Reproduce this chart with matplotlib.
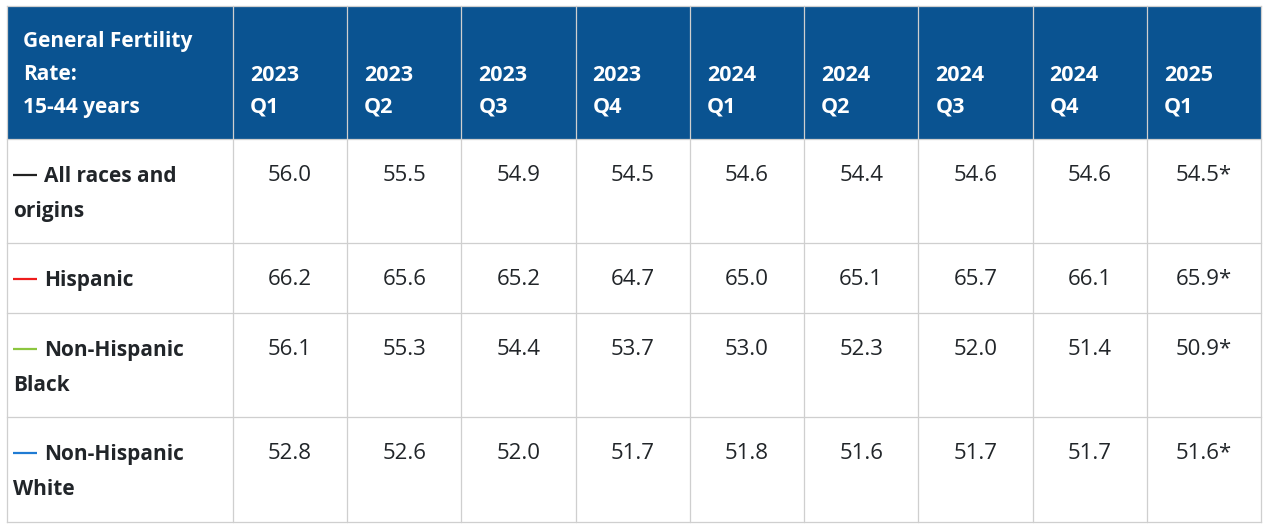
import matplotlib.pyplot as plt
from matplotlib.patches import Rectangle

# table content
title_lines = ['General Fertility', 'Rate:', '15-44 years']
periods = ['2023\nQ1', '2023\nQ2', '2023\nQ3', '2023\nQ4', '2024\nQ1',
           '2024\nQ2', '2024\nQ3', '2024\nQ4', '2025\nQ1']
row_labels = ['All races and\norigins', 'Hispanic', 'Non-Hispanic\nBlack', 'Non-Hispanic\nWhite']
dash_colors = ['#222222', '#ee1c1c', '#8cc63f', '#1f7bd3']
all_races = [56.0, 55.5, 54.9, 54.5, 54.6, 54.4, 54.6, 54.6, 54.5]
hispanic = [66.2, 65.6, 65.2, 64.7, 65.0, 65.1, 65.7, 66.1, 65.9]
nh_black = [56.1, 55.3, 54.4, 53.7, 53.0, 52.3, 52.0, 51.4, 50.9]
nh_white = [52.8, 52.6, 52.0, 51.7, 51.8, 51.6, 51.7, 51.7, 51.6]
provisional = [False] * 8 + [True]

values = [all_races, hispanic, nh_black, nh_white]

# layout in pixels
W, H = 1278, 527
x_left, x_first, x_right = 7, 233, 1261
col_w = (x_right - x_first) / len(periods)
y_top, y_head = 6, 139
row_bottoms = [243, 313, 417, 522]
head_bg = '#0a5391'
grid_c = '#cfcfcf'
txt_c = '#212529'
font = 'Open Sans'

fig = plt.figure(figsize=(W / 100, H / 100), dpi=100, facecolor='white')
ax = fig.add_axes([0, 0, 1, 1])
ax.set_xlim(0, W)
ax.set_ylim(H, 0)
ax.axis('off')

# header band
ax.add_patch(Rectangle((x_left, y_top), x_right - x_left, y_head - y_top,
                       facecolor=head_bg, edgecolor='none', zorder=1))

# grid
col_edges = [x_left] + [x_first + i * col_w for i in range(len(periods) + 1)]
for xe in col_edges:
    ax.plot([xe, xe], [y_top, row_bottoms[-1]], color=grid_c, lw=0.9, zorder=2)
for ye in [y_top, y_head] + row_bottoms:
    ax.plot([x_left, x_right], [ye, ye], color=grid_c, lw=0.9, zorder=2)

# header text
for i, line in enumerate(title_lines):
    ax.text(23, 47 + i * 33, line, color='white', fontsize=15, fontweight='bold',
            family=font, va='baseline', ha='left', zorder=3)
for j, p in enumerate(periods):
    x0 = x_first + j * col_w + 17
    for i, line in enumerate(p.split('\n')):
        ax.text(x0, 81 + i * 32, line, color='white', fontsize=15.5, fontweight='bold',
                family=font, va='baseline', ha='left', zorder=3)

# body
row_tops = [y_head] + row_bottoms[:-1]
for r, (lab, col, vals) in enumerate(zip(row_labels, dash_colors, values)):
    base = row_tops[r] + 43
    ax.plot([13, 37], [base - 7, base - 7], color=col, lw=1.6, zorder=3,
            solid_capstyle='butt')
    for i, line in enumerate(lab.split('\n')):
        ax.text(44 if i == 0 else 13, base + i * 35, line, color=txt_c, fontsize=15,
                fontweight='bold', family=font, va='baseline', ha='left', zorder=3)
    for j, v in enumerate(vals):
        xc = x_first + (j + 0.5) * col_w
        s = f'{v:.1f}' + ('*' if provisional[j] else '')
        ax.text(xc, base - 1, s, color=txt_c, fontsize=16, family=font,
                va='baseline', ha='center', zorder=3)

fig.savefig('out.png', dpi=100, facecolor='white')
